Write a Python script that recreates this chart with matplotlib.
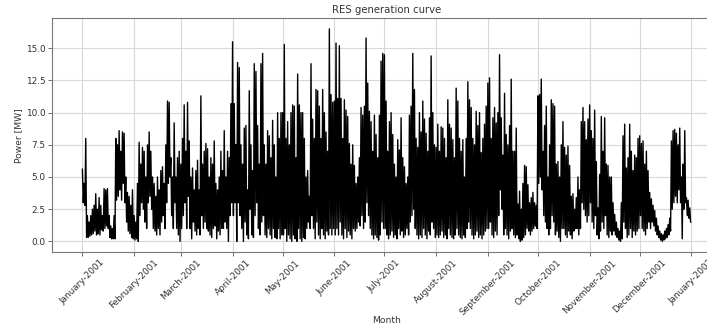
import numpy as np
import pandas as pd
import matplotlib
matplotlib.use("Agg")
import matplotlib.pyplot as plt
import matplotlib.dates as mdates

# Daily peak / trough power [MW], per month
jan_high = [5.6, 4.5, 8.0, 2.0, 1.5, 2.0, 2.5, 2.8, 3.7, 2.5, 3.4, 2.8, 2.0, 4.1, 4.0, 4.1,
            2.0, 1.2, 1.0, 2.0, 8.0, 7.5, 8.6, 7.0, 8.5, 8.4, 5.0, 3.8, 3.5, 2.8, 4.0]
jan_low = [3.0, 2.8, 0.3, 0.3, 0.4, 0.5, 0.6, 0.8, 0.5, 0.6, 0.5, 0.9, 0.8, 1.0, 1.2, 1.0,
           0.3, 0.2, 0.2, 0.2, 3.2, 3.5, 4.0, 3.2, 4.5, 3.0, 1.5, 0.8, 0.6, 0.3, 0.2]
feb_high = [2.0, 1.5, 4.5, 7.7, 6.0, 7.3, 7.0, 5.0, 7.5, 8.5, 7.0, 5.0, 4.5, 3.5, 5.0, 4.0,
            5.5, 5.8, 4.5, 7.5, 10.9, 10.8, 6.5, 5.0, 9.2, 5.0, 6.5, 7.0]
feb_low = [0.1, 0.2, 0.0, 2.0, 3.0, 2.5, 1.5, 1.0, 3.0, 3.5, 2.5, 1.0, 0.8, 0.5, 1.0, 0.5,
           1.5, 2.0, 1.0, 3.0, 4.5, 5.0, 2.0, 1.0, 3.0, 1.0, 0.5, 0.0]
mar_high = [6.0, 8.0, 10.6, 7.0, 10.8, 7.8, 5.0, 5.7, 4.0, 5.5, 6.3, 4.0, 11.3, 6.0, 7.0, 7.6,
            7.2, 5.0, 6.5, 6.0, 7.8, 4.5, 4.0, 5.0, 7.0, 5.5, 8.6, 5.0, 7.0, 6.5, 10.7]
mar_low = [1.0, 2.0, 3.0, 1.0, 3.5, 1.0, 0.2, 1.5, 0.8, 0.5, 1.0, 0.5, 2.0, 1.0, 1.5, 1.0,
           0.8, 0.5, 0.3, 1.0, 1.2, 0.2, 0.8, 0.5, 1.0, 1.0, 1.5, 1.0, 0.0, 2.0, 3.0]
apr_high = [15.5, 10.7, 7.5, 13.9, 13.5, 7.5, 6.0, 8.8, 9.0, 4.0, 11.7, 7.5, 5.5, 13.8, 13.2,
            9.0, 6.0, 13.8, 14.6, 7.5, 6.0, 8.6, 8.2, 6.5, 9.4, 7.5, 5.0, 10.0, 8.0, 10.0]
apr_low = [2.0, 3.0, 0.0, 3.0, 2.0, 1.0, 0.0, 1.5, 0.5, 0.2, 2.5, 0.5, 0.3, 2.0, 3.0,
           1.0, 0.5, 1.5, 2.0, 0.5, 0.3, 1.0, 0.5, 0.2, 1.0, 0.3, 0.2, 1.0, 0.2, 0.5]
may_high = [10.0, 15.3, 8.0, 9.3, 7.5, 10.0, 10.6, 10.5, 6.5, 13.0, 10.6, 10.0, 10.0, 8.0, 5.0,
            5.5, 3.5, 13.8, 9.5, 8.0, 11.8, 11.7, 10.5, 8.0, 11.8, 10.0, 8.5, 7.0, 16.5, 11.4, 10.8]
may_low = [0.5, 1.0, 0.0, 0.5, 0.2, 0.0, 0.5, 0.2, 0.0, 1.0, 0.2, 0.0, 0.3, 0.2, 1.0,
           1.5, 1.0, 2.0, 1.0, 0.2, 1.5, 0.5, 0.2, 1.0, 0.5, 0.2, 0.8, 0.5, 1.0, 0.5, 1.0]
jun_high = [10.9, 15.4, 11.1, 15.2, 11.1, 8.0, 11.0, 10.2, 9.7, 7.6, 6.0, 7.5, 5.9, 4.5, 5.0,
            6.5, 10.4, 9.8, 10.5, 15.8, 12.3, 10.1, 9.3, 7.0, 9.8, 8.3, 6.5, 9.8, 14.0, 14.6]
jun_low = [0.5, 1.0, 0.5, 1.5, 0.5, 0.2, 1.0, 0.3, 0.8, 0.5, 0.2, 1.0, 0.8, 1.0, 1.5,
           1.2, 2.0, 1.0, 1.5, 3.0, 2.0, 1.0, 0.5, 0.2, 0.5, 0.3, 0.1, 0.5, 1.5, 1.0]
jul_high = [14.5, 10.9, 7.0, 9.3, 10.0, 8.3, 6.0, 5.0, 7.9, 7.1, 9.6, 6.5, 5.8, 4.5, 5.0, 9.8,
            10.5, 14.6, 11.8, 8.0, 7.3, 10.0, 8.5, 10.9, 9.5, 8.4, 7.0, 9.6, 14.4, 10.0, 7.5]
jul_low = [1.0, 0.5, 0.2, 0.5, 0.8, 0.3, 0.5, 0.2, 1.0, 0.5, 0.8, 0.3, 0.5, 1.0, 0.5, 1.5,
           2.0, 2.5, 1.0, 0.5, 0.2, 0.5, 0.3, 1.0, 0.5, 0.2, 0.8, 0.5, 1.5, 1.0, 0.3]
aug_high = [7.3, 9.1, 7.0, 8.9, 8.8, 8.0, 6.5, 11.0, 9.1, 8.8, 7.9, 6.5, 11.9, 10.9, 8.0, 7.0,
            7.9, 5.0, 8.0, 12.4, 11.0, 10.4, 8.0, 7.5, 10.1, 9.0, 10.0, 6.9, 8.0, 9.1, 10.5]
aug_low = [0.5, 0.3, 0.5, 0.8, 0.3, 0.5, 0.2, 1.0, 0.5, 0.3, 0.2, 0.5, 1.0, 0.5, 0.3, 0.2,
           0.5, 0.3, 1.0, 1.5, 1.0, 0.5, 0.2, 0.5, 0.8, 0.3, 0.5, 0.2, 0.5, 0.8, 1.0]
sep_high = [12.3, 12.7, 8.0, 9.6, 10.4, 9.2, 10.0, 14.5, 9.6, 6.7, 11.5, 8.3, 7.5, 9.0, 12.6,
            7.0, 7.0, 8.8, 2.9, 3.9, 2.5, 4.5, 5.9, 5.8, 4.4, 3.0, 3.4, 3.8, 3.0, 2.8]
sep_low = [1.0, 1.5, 0.5, 0.3, 0.8, 0.5, 2.0, 4.0, 2.5, 0.5, 1.0, 0.5, 0.2, 0.8, 1.0,
           0.5, 0.3, 0.5, 0.2, 0.0, 0.1, 0.3, 0.5, 1.0, 0.8, 0.5, 0.8, 1.0, 1.2, 1.0]
oct_high = [11.3, 11.4, 12.6, 7.0, 9.0, 10.5, 5.0, 7.5, 11.0, 10.7, 10.5, 6.0, 6.2, 5.0, 7.5,
            9.3, 7.3, 6.7, 7.4, 5.9, 3.5, 3.7, 2.5, 3.4, 5.0, 4.0, 9.3, 10.4, 9.3, 7.9, 9.5]
oct_low = [4.5, 5.0, 4.0, 2.0, 1.5, 1.0, 0.5, 1.0, 2.0, 1.5, 0.5, 0.8, 0.3, 0.0, 1.0,
           1.0, 0.5, 0.3, 0.8, 0.5, 0.2, 0.8, 1.0, 1.0, 0.5, 1.0, 3.0, 2.5, 2.0, 1.5, 2.0]
nov_high = [10.6, 8.6, 8.0, 10.2, 6.2, 2.6, 5.2, 9.7, 7.0, 9.6, 6.0, 5.9, 5.0, 5.0, 3.0,
            2.1, 1.5, 1.0, 0.8, 3.0, 8.2, 9.1, 5.7, 6.5, 9.1, 7.0, 5.5, 6.7, 6.5, 8.0]
nov_low = [3.0, 1.5, 1.0, 2.0, 0.5, 0.2, 0.8, 1.5, 1.0, 2.0, 0.5, 0.3, 0.8, 0.5, 0.8,
           0.5, 0.3, 0.1, 0.0, 0.2, 1.5, 1.0, 0.3, 0.5, 1.0, 0.3, 0.8, 0.5, 0.8, 1.0]
dec_high = [8.2, 7.6, 7.8, 6.0, 7.0, 5.5, 3.8, 3.3, 2.8, 2.4, 1.8, 1.2, 0.8, 0.6, 0.5, 0.8,
            1.0, 1.3, 1.8, 7.8, 8.6, 8.7, 8.4, 7.5, 8.8, 5.0, 6.0, 8.6, 3.4, 3.2, 2.6]
dec_low = [2.0, 1.0, 0.8, 0.5, 1.0, 1.5, 1.0, 1.5, 1.2, 0.8, 0.5, 0.3, 0.1, 0.0, 0.1, 0.2,
           0.3, 0.5, 0.8, 2.5, 3.0, 3.5, 3.0, 4.0, 3.0, 0.2, 2.5, 3.0, 2.0, 1.8, 1.5]

highs = (jan_high + feb_high + mar_high + apr_high + may_high + jun_high +
         jul_high + aug_high + sep_high + oct_high + nov_high + dec_high)
lows = (jan_low + feb_low + mar_low + apr_low + may_low + jun_low +
        jul_low + aug_low + sep_low + oct_low + nov_low + dec_low)

days = pd.date_range("2001-01-01", periods=len(highs), freq="D")
t_high = days
t_low = days + pd.Timedelta(hours=12)
times = np.empty(2 * len(days), dtype="datetime64[ns]")
times[0::2] = t_high.values
times[1::2] = t_low.values
power = np.empty(2 * len(days))
power[0::2] = highs
power[1::2] = lows

fig = plt.figure(figsize=(7.07, 3.27), dpi=100)
ax = fig.add_axes([52 / 707, 1 - 252 / 327, (721 - 52) / 707, (252 - 18.3) / 327])
ax.plot(times, power, color="black", linewidth=1.0)

ax.xaxis.set_major_locator(mdates.MonthLocator())
ax.xaxis.set_major_formatter(mdates.DateFormatter("%B-%Y"))
for lbl in ax.get_xticklabels():
    lbl.set_rotation(45)
ax.tick_params(axis="both", labelsize=6.4, length=3, width=0.6, color="#555555",
               labelcolor="#333333", pad=1.5)
ax.grid(True, color="#d8d8d8", linewidth=0.8)
for s in ax.spines.values():
    s.set_color("#777777")
    s.set_linewidth(0.8)

ax.set_title("RES generation curve", fontsize=7.3, color="#333333", pad=4)
ax.set_xlabel("Month", fontsize=6.6, color="#333333")
ax.xaxis.set_label_coords(0.5, -0.272)
ax.set_ylabel("Power [MW]", fontsize=6.6, color="#333333", labelpad=2)

fig.savefig("out.png", dpi=100)
